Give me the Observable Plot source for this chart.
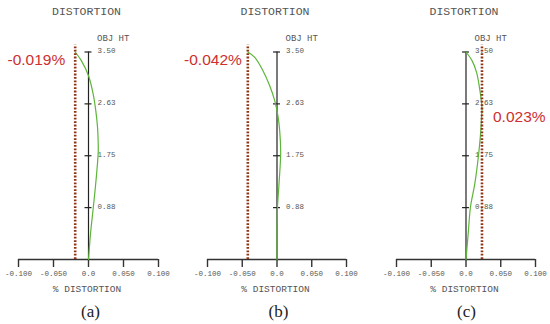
<!DOCTYPE html>
<html><head><meta charset="utf-8">
<script src="https://cdn.jsdelivr.net/npm/d3@7"></script>
<script src="https://cdn.jsdelivr.net/npm/@observablehq/plot@0.6"></script>
<style>
body{margin:0;background:#fff}
#row{display:flex;width:550px;height:324px;overflow:hidden}
svg{overflow:visible;display:block}
</style>
</head><body><div id="row"></div>
<script>
// ---- data ----
const panelLabels = ["(a)", "(b)", "(c)"];
const maxLabels = ["-0.019%", "-0.042%", "0.023%"];
const maxDistortion = [-0.019, -0.042, 0.023];

const objHtA = [3.5, 3.35, 3.10, 2.79, 2.51, 2.23, 1.94, 1.81, 1.29, 0.86, 0.44, 0];
const distA  = [-0.019, -0.010, 0, 0.0067, 0.0104, 0.0129, 0.0139, 0.0139, 0.0104, 0.0067, 0.0029, 0];

const objHtB = [3.5, 3.41, 3.18, 2.93, 2.68, 2.42, 2.17, 1.80, 1.28, 0.86, 0.44, 0];
const distB  = [-0.042, -0.032, -0.020, -0.0105, -0.0033, 0.0014, 0.0039, 0.0053, 0.0029, 0.0006, 0, 0];

const objHtC = [3.5, 3.35, 3.16, 2.90, 2.65, 2.53, 2.42, 2.17, 1.80, 1.28, 0.89, 0.44, 0];
const distC  = [0, 0.0089, 0.0151, 0.0194, 0.0223, 0.0230, 0.0224, 0.0213, 0.0184, 0.0127, 0.0065, 0.0032, 0];

const xTicks = [-0.1, -0.05, 0, 0.05, 0.1];
const xTickLabels = ["-0.100", "-0.050", "0.0", "0.050", "0.100"];
const yTicks = [3.5, 2.625, 1.75, 0.875];
const yTickLabels = ["3.50", "2.63", "1.75", "0.88"];
const titleText = "DISTORTION";
const yTitleText = "OBJ HT";
const xTitleText = "% DISTORTION";

// ---- layout (styles / positions) ----
const layouts = [
  {width: 183, marginLeft: 18, marginRight: 25, labelY: 3.5, labelDx: -10, labelDy: 8.5, anchor: "end", titleDx: -2, capDx: 2},
  {width: 183, marginLeft: 24, marginRight: 20, labelY: 3.5, labelDx: -6, labelDy: 8.5, anchor: "end", titleDx: -2, capDx: 1.5},
  {width: 184, marginLeft: 30, marginRight: 15, labelY: 2.4, labelDx: 11, labelDy: 0, anchor: "start", titleDx: -2, capDx: 0.5}
];
const series = [[objHtA, distA], [objHtB, distB], [objHtC, distC]];
const mono = "Liberation Mono, DejaVu Sans Mono, monospace";
const labelMap = new Map(xTicks.map((t, i) => [t, xTickLabels[i]]));

const row = document.getElementById("row");
layouts.forEach((L, p) => {
  const [hts, ds] = series[p];
  const curve = hts.map((h, i) => ({h, d: ds[i]}));
  const yt = yTicks.map((v, i) => ({v, t: yTickLabels[i]}));
  const chart = Plot.plot({
    width: L.width,
    height: 324,
    marginTop: 51.5,
    marginBottom: 65,
    marginLeft: L.marginLeft,
    marginRight: L.marginRight,
    x: {domain: [-0.1, 0.1]},
    y: {domain: [0, 3.5], axis: null},
    style: {background: "#fff", overflow: "visible"},
    marks: [
      Plot.axisX({ticks: xTicks, tickFormat: d => labelMap.get(d), tickSize: 8, tickPadding: 3,
        stroke: "#333", strokeWidth: 1.4, fill: "#555", fontSize: 7.5, fontFamily: mono, label: null}),
      Plot.ruleY([0], {x1: -0.1, x2: 0.1, stroke: "#333", strokeWidth: 1.4}),
      Plot.ruleX([0], {y1: 0, y2: 3.5, stroke: "#222", strokeWidth: 1.2}),
      Plot.ruleY(yt, {y: "v", x1: -0.005, x2: 0.005, stroke: "#222", strokeWidth: 1.2}),
      Plot.text(yt, {x: 0, y: "v", text: "t", dx: 9, dy: -1.5, textAnchor: "start",
        fill: "#555", fontSize: 7.5, fontFamily: mono}),
      Plot.line(curve, {x: "d", y: "h", curve: "catmull-rom", stroke: "#5db53a", strokeWidth: 1.2}),
      Plot.ruleX([maxDistortion[p]], {y1: 0, y2: 3.62, stroke: "#8e3516", strokeWidth: 2.6, strokeDasharray: "1.8,1.6"}),
      Plot.text([{x: maxDistortion[p], y: L.labelY, t: maxLabels[p]}], {x: "x", y: "y", text: "t",
        dx: L.labelDx, dy: L.labelDy, textAnchor: L.anchor, fill: "#cc3030", fontSize: 15.5,
        fontFamily: "Liberation Sans, Arial, sans-serif"}),
      Plot.text([{x: 0, y: 3.5, t: titleText}], {x: "x", y: "y", text: "t", dx: L.titleDx, dy: -40.5,
        fill: "#555", fontSize: 11.5, fontFamily: mono}),
      Plot.text([{x: 0, y: 3.5, t: yTitleText}], {x: "x", y: "y", text: "t", dx: 8.5, dy: -13.5,
        textAnchor: "start", fill: "#555", fontSize: 9, fontFamily: mono}),
      Plot.text([{x: 0, y: 0, t: xTitleText}], {x: "x", y: "y", text: "t", dx: -1.5, dy: 29,
        fill: "#555", fontSize: 9.5, fontFamily: mono}),
      Plot.text([{x: 0, y: 0, t: panelLabels[p]}], {x: "x", y: "y", text: "t", dx: L.capDx, dy: 52,
        fill: "#222", fontSize: 17, fontFamily: "Liberation Serif, DejaVu Serif, serif"})
    ]
  });
  row.appendChild(chart);
});
</script>
</body></html>
